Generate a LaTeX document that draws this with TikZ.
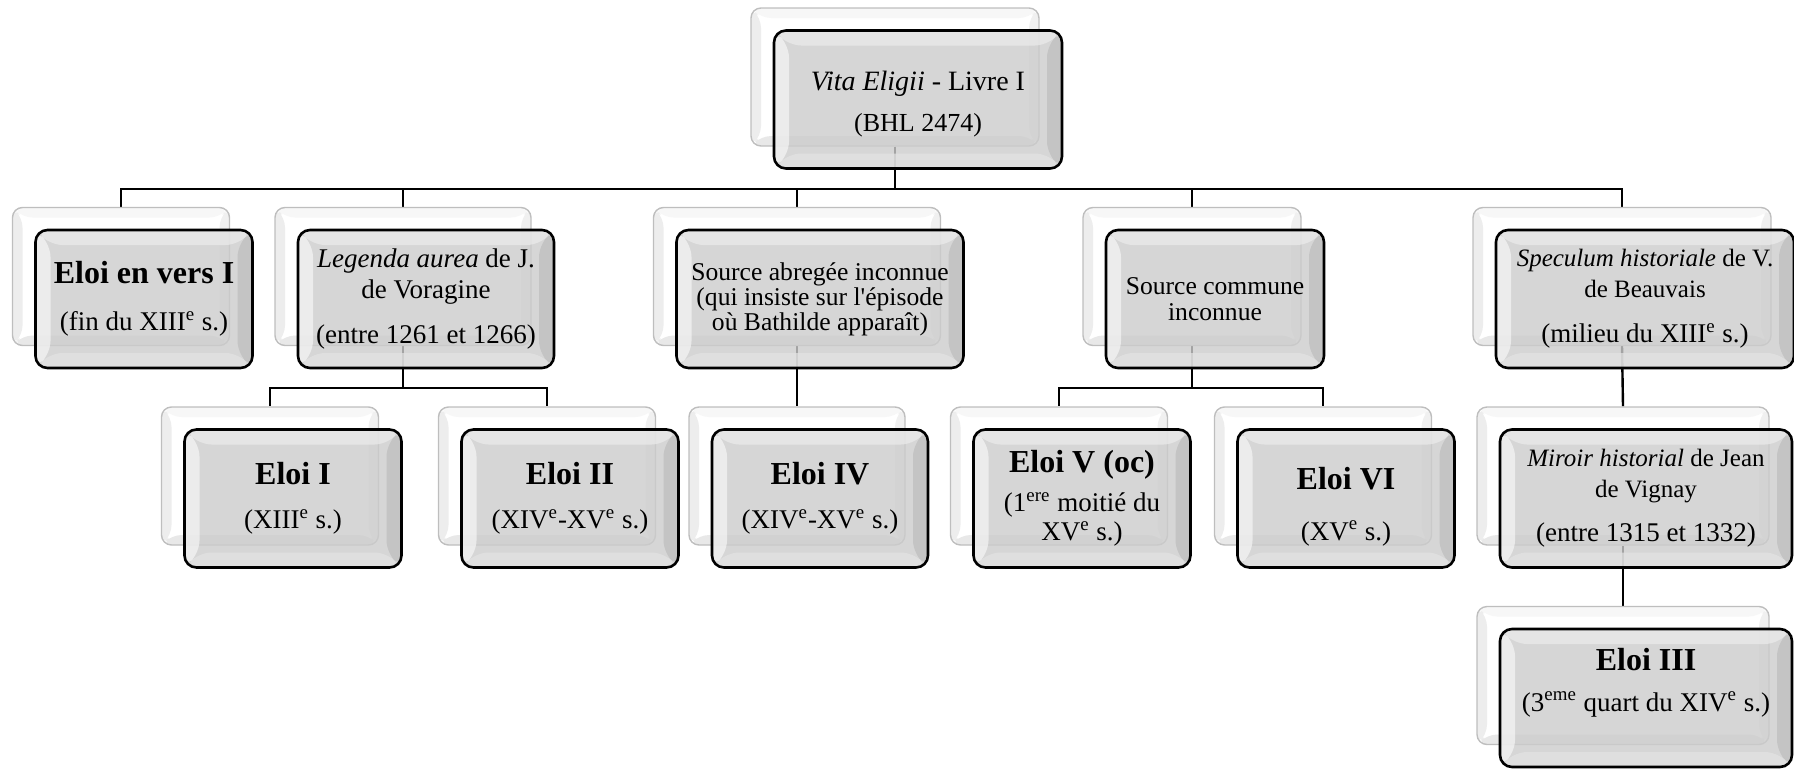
\documentclass[tikz,border=0pt]{standalone}
\usepackage{fontspec}
\setmainfont{Liberation Serif}
\usepackage{tikz}
\usetikzlibrary{backgrounds}
\definecolor{bface}{HTML}{CCCCCC}
\definecolor{btop}{HTML}{ECECEC}
\definecolor{bleft}{HTML}{F6F6F6}
\definecolor{bright}{HTML}{BCBCBC}
\definecolor{bbot}{HTML}{E4E4E4}
\definecolor{bedge}{HTML}{BEBEBE}
\newcommand{\eloi}[1]{{\fontsize{16}{14.5}\selectfont\bfseries #1}}
\newcommand{\sz}[1]{\fontsize{#1}{14.5}\selectfont}
\tikzset{bevel/.style n args={6}{path picture={
    \path (path picture bounding box.north west) coordinate (nw)
          (path picture bounding box.north east) coordinate (ne)
          (path picture bounding box.south west) coordinate (sw)
          (path picture bounding box.south east) coordinate (se);
    \begin{scope}[fill opacity=#6]
    \fill[#2] (nw) -- (ne) -- ([shift={(-#1,-#1)}]ne) -- ([shift={(#1,-#1)}]nw) -- cycle;
    \fill[#3] (nw) -- ([shift={(#1,-#1)}]nw) -- ([shift={(#1,#1)}]sw) -- (sw) -- cycle;
    \fill[#4] (ne) -- (se) -- ([shift={(-#1,#1)}]se) -- ([shift={(-#1,-#1)}]ne) -- cycle;
    \fill[#5] (sw) -- (se) -- ([shift={(-#1,#1)}]se) -- ([shift={(#1,#1)}]sw) -- cycle;
    \end{scope}
}}}
\tikzstyle{backblock} = [rectangle, rounded corners=5pt, draw=bedge, line width=0.7pt, fill=white, minimum height=69pt, bevel={5pt}{gray!6}{gray!14}{gray!12}{gray!18}{1}]
\tikzstyle{block} = [rectangle, rounded corners=6pt, draw=black, line width=1.3pt, fill=bface, fill opacity=0.8, text opacity=1, align=center, inner sep=0pt, minimum height=69pt, font=\sz{13.5}, bevel={7.5pt}{btop}{bleft}{bright}{bbot}{0.7}]
\tikzstyle{conn} = [draw, line width=1.2pt]
\tikzstyle{elbow} = [to path={-- ++(0,42) -| (\tikztotarget)}]

\begin{document}
\begin{tikzpicture}[x=0.5pt, y=-0.5pt]
    \useasboundingbox (0,0) rectangle (1794,771);
    % top
    \node[backblock, minimum width=144pt] at (895,77) (rootbk) {};
    \node[block, minimum width=144pt] at (918,99.5) (root) {\mbox{}\\[0pt]{\sz{14}\textit{Vita Eligii} - Livre I}\\[6pt] {\sz{13}(BHL 2474)}};
    % first row
    \node[backblock, minimum width=108.5pt] at (121,276.5) (enversbk) {};
    \node[block, minimum width=108.5pt] at (144,299) (envers) {\eloi{Eloi en vers I}\\[9pt] (fin du XIII\textsuperscript{e} s.)};
    \node[backblock, minimum width=128pt] at (403,276.5) (legendabk) {};
    \node[block, minimum width=128pt] at (426,299) (legenda) {\textit{Legenda aurea} de J.\\[1pt] de Voragine\\[8pt] (entre 1261 et 1266)};
    \node[backblock, minimum width=143.5pt] at (797,276.5) (abregeebk) {};
    \node[block, minimum width=143.5pt, font=\sz{12.8}] at (820,299) (abregee) {Source abregée inconnue\\[-2pt] (qui insiste sur l\textquotesingle{}épisode\\[-2pt] où Bathilde apparaît)};
    \node[backblock, minimum width=109pt] at (1192,276.5) (communebk) {};
    \node[block, minimum width=109pt, font=\sz{12.8}] at (1215,299) (commune) {Source commune\\[-1.5pt] inconnue};
    \node[backblock, minimum width=149pt] at (1622,276.5) (speculumbk) {};
    \node[block, minimum width=149pt] at (1645,299) (speculum) {{\sz{12.5}\textit{Speculum historiale} de V.}\\[1pt] {\sz{12.5}de Beauvais}\\[8pt] (milieu du XIII\textsuperscript{e} s.)};
    % second row
    \node[backblock, minimum width=108.5pt] at (270,476) (eloiIbk) {};
    \node[block, minimum width=108.5pt] at (293,498.5) (eloiI) {\eloi{Eloi I}\\[7.5pt] (XIII\textsuperscript{e} s.)};
    \node[backblock, minimum width=108.5pt] at (547,476) (eloiIIbk) {};
    \node[block, minimum width=108.5pt] at (570,498.5) (eloiII) {\eloi{Eloi II}\\[7.5pt] (XIV\textsuperscript{e}-XV\textsuperscript{e} s.)};
    \node[backblock, minimum width=108pt] at (797,476) (eloiIVbk) {};
    \node[block, minimum width=108pt] at (820,498.5) (eloiIV) {\eloi{Eloi IV}\\[7.5pt] (XIV\textsuperscript{e}-XV\textsuperscript{e} s.)};
    \node[backblock, minimum width=108.5pt] at (1059,476) (eloiVbk) {};
    \node[block, minimum width=108.5pt] at (1082,498.5) (eloiV) {\eloi{Eloi V (oc)}\\[5pt] (1\textsuperscript{ere} moitié du\\[0pt] XV\textsuperscript{e} s.)};
    \node[backblock, minimum width=108.5pt] at (1323,476) (eloiVIbk) {};
    \node[block, minimum width=108.5pt] at (1346,498.5) (eloiVI) {\mbox{}\\[4.5pt]\eloi{Eloi VI}\\[11pt] (XV\textsuperscript{e} s.)};
    \node[backblock, minimum width=146pt] at (1623,476) (miroirbk) {};
    \node[block, minimum width=146pt] at (1646,498.5) (miroir) {{\sz{12.5}\textit{Miroir historial} de Jean}\\[1pt] {\sz{12.5}de Vignay}\\[7.5pt] (entre 1315 et 1332)};
    % third row
    \node[backblock, minimum width=146pt] at (1623,675.5) (eloiIIIbk) {};
    \node[block, minimum width=146pt] at (1646,698) (eloiIII) {\eloi{Eloi III}\\[6pt] (3\textsuperscript{eme} quart du XIV\textsuperscript{e} s.)\\[4pt] \mbox{}};
    % links
    \begin{pgfonlayer}{background}
    \foreach \kid in {enversbk, legendabk, abregeebk, communebk, speculumbk}
        \path[conn] (rootbk.south) to[elbow] (\kid.north);
    \foreach \kid in {eloiIbk, eloiIIbk}
        \path[conn] (legendabk.south) to[elbow] (\kid.north);
    \foreach \kid in {eloiVbk, eloiVIbk}
        \path[conn] (communebk.south) to[elbow] (\kid.north);
    \path[conn] (abregeebk.south) -- (eloiIVbk.north);
    \path[conn] (speculumbk.south) -- (miroirbk.north);
    \path[conn] (miroirbk.south) -- (eloiIIIbk.north);
    \end{pgfonlayer}
\end{tikzpicture}
\end{document}
